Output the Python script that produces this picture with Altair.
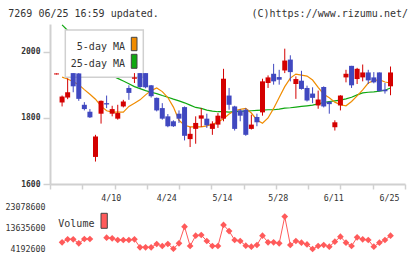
import json
import pandas as pd
import altair as alt

# ---------------- data ----------------
dates = ["3/27", "3/28", "3/31", "4/1", "4/2", "4/3", "4/4", "4/7", "4/8", "4/9",
         "4/10", "4/11", "4/14", "4/15", "4/16", "4/17", "4/18", "4/21", "4/22", "4/23",
         "4/24", "4/25", "4/30", "5/1", "5/2", "5/7", "5/8", "5/9", "5/12", "5/13",
         "5/14", "5/15", "5/16", "5/19", "5/20", "5/21", "5/22", "5/23", "5/26", "5/27",
         "5/28", "5/29", "5/30", "6/2", "6/3", "6/4", "6/5", "6/6", "6/9", "6/10",
         "6/11", "6/12", "6/13", "6/16", "6/17", "6/18", "6/19", "6/20", "6/23", "6/24", "6/25"]

opens = [1932, 1847, 1862, 1936, 1935, 1840, 1819, 1682, 1813, 1845,
         1813, 1798, 1835, 1891, 1919, 1936, 1936, 1899, 1861, 1830,
         1805, 1790, 1813, 1833, 1736, 1767, 1798, 1798, 1767, 1780,
         1798, 1868, 1835, 1823, 1825, 1767, 1803, 1817, 1906, 1934,
         1924, 1944, 1977, 1903, 1913, 1891, 1874, 1838, 1894, 1849,
         1772, 1838, 1923, 1958, 1918, 1923, 1938, 1923, 1938, 1886, 1896]
highs = [1935, 1868, 1920, 1936, 1936, 1848, 1827, 1749, 1853, 1868,
         1837, 1840, 1855, 1899, 1936, 1936, 1936, 1900, 1862, 1845,
         1812, 1793, 1823, 1835, 1773, 1805, 1830, 1813, 1790, 1815,
         1949, 1891, 1837, 1827, 1830, 1810, 1813, 1919, 1929, 1964,
         1946, 2010, 1990, 1926, 1943, 1898, 1893, 1883, 1896, 1850,
         1793, 1869, 1946, 1958, 1952, 1962, 1946, 1939, 1938, 1906, 1956]
lows = [1932, 1835, 1857, 1878, 1852, 1823, 1800, 1668, 1783, 1830,
        1805, 1795, 1832, 1855, 1906, 1890, 1890, 1862, 1820, 1795,
        1772, 1773, 1785, 1732, 1712, 1722, 1773, 1770, 1749, 1770,
        1790, 1825, 1762, 1790, 1746, 1765, 1775, 1807, 1891, 1901,
        1901, 1936, 1911, 1858, 1886, 1850, 1845, 1828, 1832, 1813,
        1762, 1823, 1908, 1891, 1903, 1911, 1903, 1905, 1881, 1874, 1869]
closes = [1935, 1865, 1878, 1896, 1858, 1827, 1802, 1744, 1852, 1841,
          1827, 1815, 1850, 1876, 1923, 1894, 1893, 1866, 1823, 1798,
          1775, 1775, 1798, 1746, 1752, 1785, 1808, 1778, 1783, 1807,
          1919, 1840, 1767, 1807, 1749, 1780, 1787, 1911, 1923, 1911,
          1916, 1974, 1939, 1918, 1888, 1853, 1861, 1856, 1835, 1842,
          1787, 1868, 1934, 1899, 1949, 1938, 1914, 1908, 1881, 1881, 1938]
ma5 = [None, 1924, 1918, 1910, 1901, 1886, 1872, 1857, 1836, 1822,
       1818, 1818, 1818, 1835, 1845, 1855, 1870, 1883, 1891, 1880,
       1862, 1833, 1793, 1778, 1773, 1773, 1773, 1776, 1781, 1788,
       1798, 1812, 1822, 1826, 1829, 1815, 1794, 1784, 1800, 1829,
       1862, 1895, 1921, 1933, 1930, 1927, 1915, 1893, 1872, 1861,
       1848, 1840, 1837, 1850, 1867, 1885, 1906, 1913, 1916, 1909, 1906]
ma25 = [None, 2082, 2065, 2049, 2034, 2016, 2001, 1983, 1965, 1946,
        1928, 1920, 1912, 1904, 1895, 1889, 1883, 1878, 1874, 1868,
        1863, 1857, 1852, 1846, 1839, 1832, 1829, 1824, 1821, 1819,
        1819, 1818, 1819, 1820, 1821, 1822, 1823, 1824, 1825, 1825,
        1827, 1830, 1831, 1833, 1835, 1837, 1839, 1843, 1847, 1850,
        1852, 1854, 1858, 1863, 1870, 1876, 1878, 1879, 1881, 1884, 1891]
volumes = [None, 7260000, 8630000, 8630000, 6800000, 8770000, 8770000, 38000000, 29000000, 9360000,
           9080000, 8310000, 8310000, 8310000, 8630000, 4970000, 4970000, 4970000, 6480000, 5560000,
           6480000, 4300000, 6800000, 14400000, 5560000, 10270000, 10600000, 7850000, 5560000, 5560000,
           15200000, 12400000, 8310000, 7850000, 5700000, 5240000, 6020000, 10270000, 7260000, 7260000,
           6800000, 19000000, 6020000, 7850000, 7100000, 6300000, 4192600, 5560000, 6020000, 5240000,
           7540000, 9830000, 7100000, 5560000, 9520000, 8630000, 8310000, 5240000, 7100000, 8310000, 10270000]

price_ticks = [1600, 1800, 2000]
vol_ticks = [4192600, 13635600, 23078600]
date_label_idx = [10, 20, 30, 40, 50, 60]
x_grid_ticks = [-1.17, 4.63, 10.42, 16.22, 22.02, 27.82, 33.61, 39.41, 45.21, 51.0, 56.8, 62.6]

# ---------------- styling ----------------
FONT = "DejaVu Sans Mono"
RED = "#d40000"
BLUE = "#4048c0"
ORANGE = "#f08c00"
GREEN = "#10a810"
VOLC = "#ff5a5a"
AXC = "#d0d0d0"
TXT = "#333333"

df = pd.DataFrame({
    "i": list(range(len(dates))), "date": dates,
    "open": opens, "high": highs, "low": lows, "close": closes,
    "ma5": ma5, "ma25": ma25, "volume": volumes,
})
one = pd.DataFrame({"k": [0]})

xs = alt.Scale(domain=[-1.17, 62.6], nice=False, zero=False)
ys = alt.Scale(domain=[1600, 2084.8], nice=False, zero=False)
vys = alt.Scale(domain=[991584, 24770560], nice=False, zero=False)

x_price_axis = alt.Axis(values=x_grid_ticks, labels=False, ticks=True, tickSize=5,
                        tickColor=AXC, tickWidth=1.5, domainColor=AXC, domainWidth=2,
                        grid=False, title=None)
y_price_axis = alt.Axis(values=price_ticks, format="d", labelFont=FONT, labelFontSize=8,
                        labelFontWeight="bold", labelColor=TXT, tickSize=7, tickColor=AXC,
                        tickWidth=1.5, domainColor=AXC, domainWidth=2, grid=False, title=None,
                        labelPadding=3)
PX = dict(scale=xs, axis=x_price_axis)
PY = dict(scale=ys, axis=y_price_axis)

# invisible frame marks that fix the page's extent (so the plot origin lands at 50, 24)
frame_top = alt.Chart(one).mark_rect(opacity=0).encode(
    x=alt.value(-50), x2=alt.value(370), y=alt.value(-24), y2=alt.value(0))
frame_bottom = alt.Chart(one).mark_rect(opacity=0).encode(
    x=alt.value(-50), x2=alt.value(370), y=alt.value(0), y2=alt.value(55))

base = alt.Chart(df)
ma25_line = base.mark_line(color=GREEN, strokeWidth=1.2, clip=True).encode(
    x=alt.X("i:Q", **PX), y=alt.Y("ma25:Q", **PY))
ma5_line = base.mark_line(color=ORANGE, strokeWidth=1.2, clip=True).encode(
    x=alt.X("i:Q", **PX), y=alt.Y("ma5:Q", **PY))

leg_bg = alt.Chart(one).mark_rect(fill="white", stroke=AXC, strokeWidth=1.5).encode(
    x=alt.value(15.3), x2=alt.value(93.3), y=alt.value(6), y2=alt.value(53.3))
leg_t1 = alt.Chart(one).mark_text(text="5-day MA", align="right", baseline="alphabetic",
                                  font=FONT, fontSize=10, color=TXT).encode(
    x=alt.value(75), y=alt.value(25.5))
leg_t2 = alt.Chart(one).mark_text(text="25-day MA", align="right", baseline="alphabetic",
                                  font=FONT, fontSize=10, color=TXT).encode(
    x=alt.value(75), y=alt.value(42.7))
sw1 = alt.Chart(one).mark_rect(fill=ORANGE, stroke="#444444", strokeWidth=1).encode(
    x=alt.value(81.3), x2=alt.value(87), y=alt.value(13.3), y2=alt.value(26.7))
sw2 = alt.Chart(one).mark_rect(fill=GREEN, stroke="#444444", strokeWidth=1).encode(
    x=alt.value(81.3), x2=alt.value(87), y=alt.value(30.3), y2=alt.value(44.3))

candle_base = base.transform_calculate(
    dir="datum.close >= datum.open ? 'up' : 'down'",
    xl="datum.i - 0.45", xr="datum.i + 0.45")
color = alt.Color("dir:N", scale=alt.Scale(domain=["up", "down"], range=[RED, BLUE]), legend=None)
wicks = candle_base.mark_rule(strokeWidth=1, clip=True).encode(
    x=alt.X("i:Q", **PX), y=alt.Y("low:Q", **PY), y2="high:Q", color=color)
bodies = candle_base.mark_rect(clip=True).encode(
    x=alt.X("xl:Q", **PX), x2="xr:Q", y=alt.Y("open:Q", **PY), y2="close:Q", color=color)

title_l = alt.Chart(one).mark_text(text="7269 06/25 16:59 updated.", align="left",
                                   baseline="alphabetic", font=FONT, fontSize=10, color=TXT).encode(
    x=alt.value(-41.7), y=alt.value(-7.3))
title_r = alt.Chart(one).mark_text(text="(C)https://www.rizumu.net/", align="right",
                                   baseline="alphabetic", font=FONT, fontSize=10, color=TXT).encode(
    x=alt.value(358), y=alt.value(-7.3))

price = alt.layer(frame_top, ma25_line, ma5_line, leg_bg, leg_t1, leg_t2, sw1, sw2,
                  wicks, bodies, title_l, title_r).properties(width=355, height=160)

# ---------------- volume panel ----------------
label_expr = json.dumps(dates) + "[datum.value]"
x_vol_axis = alt.Axis(orient="top", values=date_label_idx, labelExpr=label_expr, ticks=False,
                      domain=False, grid=False, labelFont=FONT, labelFontSize=8.3,
                      labelColor=TXT, labelPadding=2, labelOffset=-1.5, labelFlush=False,
                      title=None)
y_vol_axis = alt.Axis(values=vol_ticks, format="d", ticks=False, domain=False, grid=False,
                      labelFont=FONT, labelFontSize=8.3, labelColor=TXT, labelPadding=5,
                      title=None)
VX = dict(scale=xs, axis=x_vol_axis)
VY = dict(scale=vys, axis=y_vol_axis)

vmax = max(vol_ticks)
vbase = alt.Chart(df).transform_calculate(
    vshow=f"isValid(datum.volume) && datum.volume <= {vmax} ? datum.volume : null")
vline = vbase.mark_line(color=VOLC, strokeWidth=1).encode(
    x=alt.X("i:Q", **VX), y=alt.Y("vshow:Q", **VY))
vpts = vbase.mark_point(shape="diamond", filled=True, size=45, color=VOLC, opacity=1).encode(
    x=alt.X("i:Q", **VX), y=alt.Y("vshow:Q", **VY))
vleg_t = alt.Chart(one).mark_text(text="Volume", align="left", baseline="alphabetic",
                                  font=FONT, fontSize=10, color=TXT).encode(
    x=alt.value(8.3), y=alt.value(22.7))
vleg_sw = alt.Chart(one).mark_rect(fill=VOLC, stroke="#444444", strokeWidth=1).encode(
    x=alt.value(51), x2=alt.value(57.3), y=alt.value(9.3), y2=alt.value(24.3))

volume = alt.layer(frame_bottom, vline, vpts, vleg_t, vleg_sw).properties(width=355, height=52)

chart = alt.vconcat(price, volume, spacing=20, bounds="flush").properties(
    padding={"left": 0, "top": 0, "right": 0, "bottom": 0},
    background="white",
).configure_view(strokeWidth=0)

chart.save("out.html", embed_options={"renderer": "svg", "actions": False})
